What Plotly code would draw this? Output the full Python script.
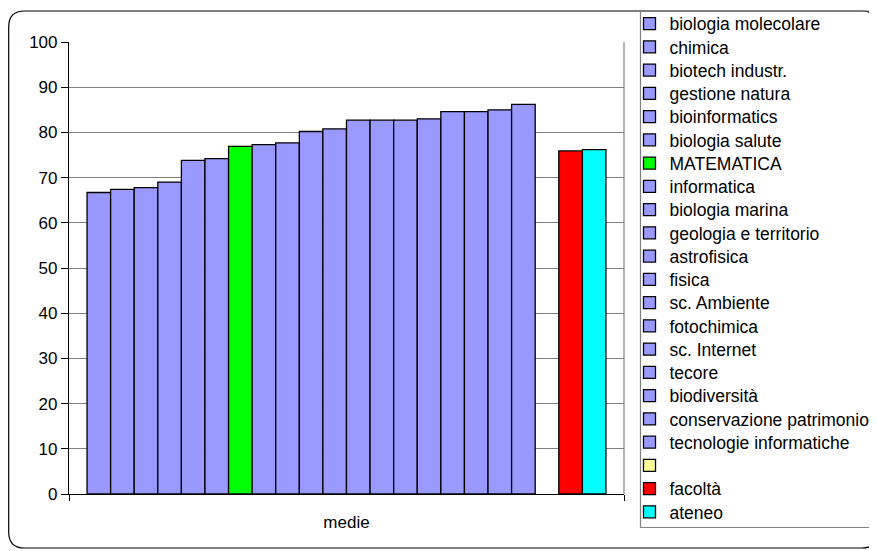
import plotly.graph_objects as go

category = ["medie"]
series_names = [
    "biologia molecolare", "chimica", "biotech industr.", "gestione natura",
    "bioinformatics", "biologia salute", "MATEMATICA", "informatica",
    "biologia marina", "geologia e territorio", "astrofisica", "fisica",
    "sc. Ambiente", "fotochimica", "sc. Internet", "tecore", "biodiversità",
    "conservazione patrimonio", "tecnologie informatiche", " ", "facoltà", "ateneo",
]
series_values = [
    66.7, 67.4, 67.8, 69.0, 73.8, 74.2, 76.9, 77.3, 77.7, 80.2, 80.8, 82.7,
    82.7, 82.7, 83.0, 84.6, 84.6, 85.0, 86.2, None, 75.9, 76.2,
]
series_colors = ["#9999FF"] * 6 + ["#00FF00"] + ["#9999FF"] * 12 + ["#FFFF99", "#FF0000", "#00FFFF"]
y_ticks = [0, 10, 20, 30, 40, 50, 60, 70, 80, 90, 100]

# page body has an 8px default margin: figure pixel = page pixel - 8
OFF = 8
W, H = 877 - OFF, 551 - OFF
L, R, T, B = 69 - OFF, 624 - OFF, 42 - OFF, 494 - OFF  # plot area (figure pixels)

def px(x):
    return (x - L) / (R - L)

def py(y):
    return (B - y) / (B - T)

font = "Liberation Sans, Arial, sans-serif"

fig = go.Figure()
legend_layouts = {}
first_item_y = 23.7 - OFF   # figure pixels
item_step = 23.25
for i, (name, val, col) in enumerate(zip(series_names, series_values, series_colors)):
    key = "legend" if i == 0 else f"legend{i + 1}"
    fig.add_trace(go.Bar(
        x=category, y=[val], name=name, legend=key,
        marker=dict(color=col, line=dict(color="#000000", width=1.3)),
    ))
    legend_layouts[key] = dict(
        x=px(621.5), xanchor="left",
        y=py(first_item_y + i * item_step), yanchor="middle",
        bgcolor="rgba(0,0,0,0)", borderwidth=0,
        font=dict(family=font, size=17.5, color="#000000"),
    )

# outer rounded border (figure pixels)
x0, x1, y0, y1, r = 0.7, 870, 3, 540, 16
path = (f"M {px(x0+r)},{py(y0)} L {px(x1-r)},{py(y0)} Q {px(x1)},{py(y0)} {px(x1)},{py(y0+r)} "
        f"L {px(x1)},{py(y1-r)} Q {px(x1)},{py(y1)} {px(x1-r)},{py(y1)} "
        f"L {px(x0+r)},{py(y1)} Q {px(x0)},{py(y1)} {px(x0)},{py(y1-r)} "
        f"L {px(x0)},{py(y0+r)} Q {px(x0)},{py(y0)} {px(x0+r)},{py(y0)} Z")
shapes = [
    dict(type="path", xref="paper", yref="paper", path=path,
         line=dict(color="#000000", width=1.2)),
    # legend box
    dict(type="rect", xref="paper", yref="paper",
         x0=px(632.5), x1=px(875), y0=py(519.5), y1=py(3),
         line=dict(color="#808080", width=1.2)),
    # plot area right border
    dict(type="line", xref="paper", yref="paper",
         x0=1, x1=1, y0=0, y1=1, line=dict(color="#808080", width=1.2)),
]

fig.update_layout(
    width=W, height=H,
    margin=dict(l=L, r=W - R, t=T, b=H - B, autoexpand=False),
    paper_bgcolor="white", plot_bgcolor="white",
    barmode="group", bargap=0.065, bargroupgap=0,
    font=dict(family=font, size=17, color="#000000"),
    showlegend=True,
    shapes=shapes,
    xaxis=dict(
        type="category", showline=True, linecolor="#000000", linewidth=1.2,
        ticks="outside", tickson="boundaries", ticklen=6, tickcolor="#000000",
        showgrid=False, tickfont=dict(family=font, size=17),
        ticklabelstandoff=12,
    ),
    yaxis=dict(
        range=[0, 100], tickvals=y_ticks, ticktext=[str(v) for v in y_ticks],
        showline=True, linecolor="#000000", linewidth=1.2,
        ticks="outside", ticklen=7, tickcolor="#000000",
        showgrid=True, gridcolor="#808080", gridwidth=1.2,
        zeroline=False, tickfont=dict(family=font, size=17),
    ),
    **legend_layouts,
)

fig.write_html("out.html")
